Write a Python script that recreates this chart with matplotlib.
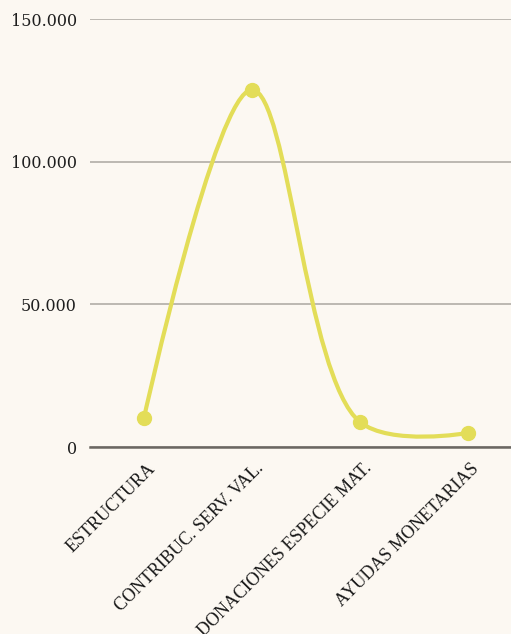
import matplotlib
matplotlib.use("Agg")
import numpy as np
import matplotlib.pyplot as plt
import matplotlib.transforms as mtransforms
from matplotlib.path import Path
from matplotlib.patches import PathPatch
from matplotlib.ticker import FuncFormatter

categories = ["ESTRUCTURA", "CONTRIBUC. SERV. VAL.",
              "DONACIONES ESPECIE MAT.", "AYUDAS MONETARIAS"]
values = [10200, 125200, 8800, 4900]
yticks = [0, 50000, 100000, 150000]

bg = "#fcf8f2"
line_color = "#e3dd58"

fig = plt.figure(figsize=(5.11, 6.34), dpi=100, facecolor=bg)
ax = fig.add_axes([90 / 511, 1 - 447 / 634, 1 - 90 / 511, 428 / 634])
ax.set_facecolor(bg)
ax.set_xlim(-0.5, 3.4)
ax.set_ylim(0, 150000)

xs = list(range(len(values)))


def catmull_rom(points, alpha=0.5):
    # centripetal catmull-rom in screen space, returned as bezier path
    p = [np.asarray(q, float) for q in points]
    p = [p[0]] + p + [p[-1]]
    verts = [p[1]]
    codes = [Path.MOVETO]
    for i in range(1, len(p) - 2):
        p0, p1, p2, p3 = p[i - 1], p[i], p[i + 1], p[i + 2]
        d01 = np.hypot(*(p1 - p0)) ** alpha
        d12 = np.hypot(*(p2 - p1)) ** alpha
        d23 = np.hypot(*(p3 - p2)) ** alpha
        c1, c2 = p1.copy(), p2.copy()
        if d01 > 1e-12:
            a = 2 * d01 ** 2 + 3 * d01 * d12 + d12 ** 2
            n = 3 * d01 * (d01 + d12)
            c1 = (p1 * a - p0 * d12 ** 2 + p2 * d01 ** 2) / n
        if d23 > 1e-12:
            b = 2 * d23 ** 2 + 3 * d23 * d12 + d12 ** 2
            m = 3 * d23 * (d23 + d12)
            c2 = (p2 * b + p1 * d23 ** 2 - p3 * d12 ** 2) / m
        verts += [c1, c2, p2]
        codes += [Path.CURVE4] * 3
    return np.array(verts), codes


screen = ax.transData.transform(np.column_stack([xs, values]))
verts, codes = catmull_rom(screen)
verts = ax.transData.inverted().transform(verts)
ax.add_patch(PathPatch(Path(verts, codes), facecolor="none",
                       edgecolor=line_color, lw=3, zorder=3))
ax.plot(xs, values, "o", color=line_color, ms=10, zorder=4)

ax.set_yticks(yticks)
ax.yaxis.set_major_formatter(FuncFormatter(lambda v, p: f"{int(v):,}".replace(",", ".")))
ax.grid(axis="y", color="#b7b3ad", lw=1.3)
ax.set_axisbelow(True)
for s in ["top", "right", "left"]:
    ax.spines[s].set_visible(False)
ax.spines["bottom"].set_color("#6b6762")
ax.spines["bottom"].set_linewidth(1.8)
ax.tick_params(length=0)
ax.tick_params(axis="y", pad=9.5, labelsize=11.5, labelcolor="#1e1e1e")
for t in ax.get_yticklabels():
    t.set_family("DejaVu Serif")

ax.set_xticks(xs)
ax.set_xticklabels(categories, rotation=45, ha="right", va="center",
                   rotation_mode="anchor", family="Liberation Serif",
                   fontsize=13, color="#1a1a1a")
offset = mtransforms.ScaledTranslation(9 / 100, -14 / 100, fig.dpi_scale_trans)
for t in ax.get_xticklabels():
    t.set_transform(t.get_transform() + offset)

fig.savefig("out.png", dpi=100, facecolor=bg)
